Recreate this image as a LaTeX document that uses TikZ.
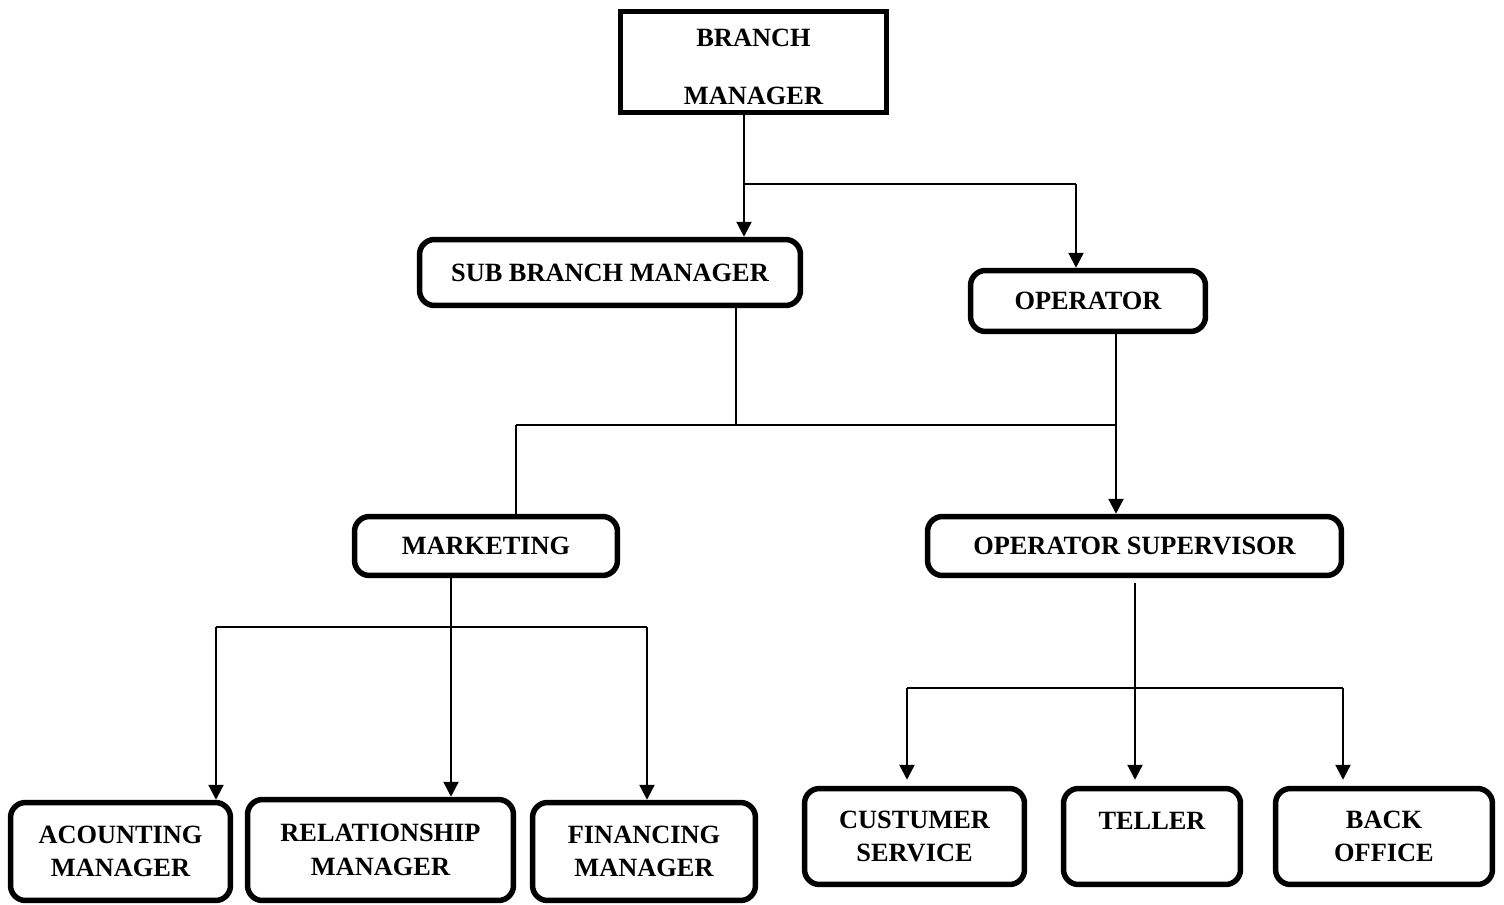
\documentclass[tikz,border=0pt]{standalone}
\usepackage{fontspec}
\setmainfont{Liberation Serif}
\usetikzlibrary{arrows.meta}

\begin{document}
\begin{tikzpicture}[x=0.02cm, y=-0.02cm,
    box/.style={draw, line width=0.11cm, rounded corners=0.3cm, align=center, inner sep=0pt, font=\bfseries\fontsize{15}{19}\selectfont},
    conn/.style={line width=1.3pt},
    arr/.style={conn, -{Triangle[length=0.3cm, width=0.3cm]}}]
        \useasboundingbox (0,0) rectangle (1504,905);
        \node[box, sharp corners, minimum width=5.32cm, minimum height=2.02cm, text height=1.71cm] (bm) at (753.5,62) {BRANCH\\[14pt]MANAGER};
        \node[box, minimum width=7.62cm, minimum height=1.32cm] (sbm) at (610,272.5) {SUB BRANCH MANAGER};
        \node[box, minimum width=4.70cm, minimum height=1.22cm] (op) at (1088,301) {OPERATOR};
        \node[box, minimum width=5.26cm, minimum height=1.18cm] (mkt) at (486,546) {MARKETING};
        \node[box, minimum width=8.28cm, minimum height=1.18cm] (ops) at (1134.5,546) {OPERATOR SUPERVISOR};
        \node[box, minimum width=4.40cm, minimum height=1.96cm] (acc) at (120.5,851.5) {ACOUNTING\\MANAGER};
        \node[box, minimum width=5.32cm, minimum height=2.02cm] (rel) at (380.5,850) {RELATIONSHIP\\MANAGER};
        \node[box, minimum width=4.46cm, minimum height=1.96cm] (fin) at (644,851.5) {FINANCING\\MANAGER};
        \node[box, minimum width=4.40cm, minimum height=1.92cm] (cus) at (914.5,836.5) {CUSTUMER\\SERVICE};
        \node[box, minimum width=3.54cm, minimum height=1.92cm, text depth=0.64cm] (tel) at (1152,836.5) {TELLER};
        \node[box, minimum width=4.34cm, minimum height=1.92cm] (bac) at (1384,836.5) {BACK\\OFFICE};

        \coordinate (t1) at (744,184); \coordinate (t2) at (1076,184);
        \draw[arr] (bm.south -| t1) -- (sbm.north -| t1); \draw[conn] (t1) -- (t2); \draw[arr] (t2) -- (op.north -| t2);

        \coordinate (m0) at (516,425); \coordinate (m1) at (736,425); \coordinate (m2) at (1116,425);
        \draw[conn] (sbm.south -| m1) -- (m1); \draw[conn] (m0) -- (m2); \draw[conn] (m0) -- (mkt.north -| m0);
        \draw[arr] (op.south -| m2) -- (ops.north -| m2);

        \coordinate (k0) at (216,627); \coordinate (k1) at (451,627); \coordinate (k2) at (647,627);
        \draw[arr] (mkt.south -| k1) -- (rel.north -| k1); \draw[conn] (k0) -- (k2);
        \draw[arr] (k0) -- (acc.north -| k0); \draw[arr] (k2) -- (fin.north -| k2);

        \coordinate (s0) at (907,688); \coordinate (s1) at (1135,688); \coordinate (s2) at (1343,688);
        \draw[arr, shorten <=0.1cm, shorten >=0.12cm] (ops.south -| s1) -- (tel.north -| s1); \draw[conn] (s0) -- (s2);
        \draw[arr, shorten >=0.12cm] (s0) -- (cus.north -| s0); \draw[arr, shorten >=0.12cm] (s2) -- (bac.north -| s2);
\end{tikzpicture}
\end{document}
